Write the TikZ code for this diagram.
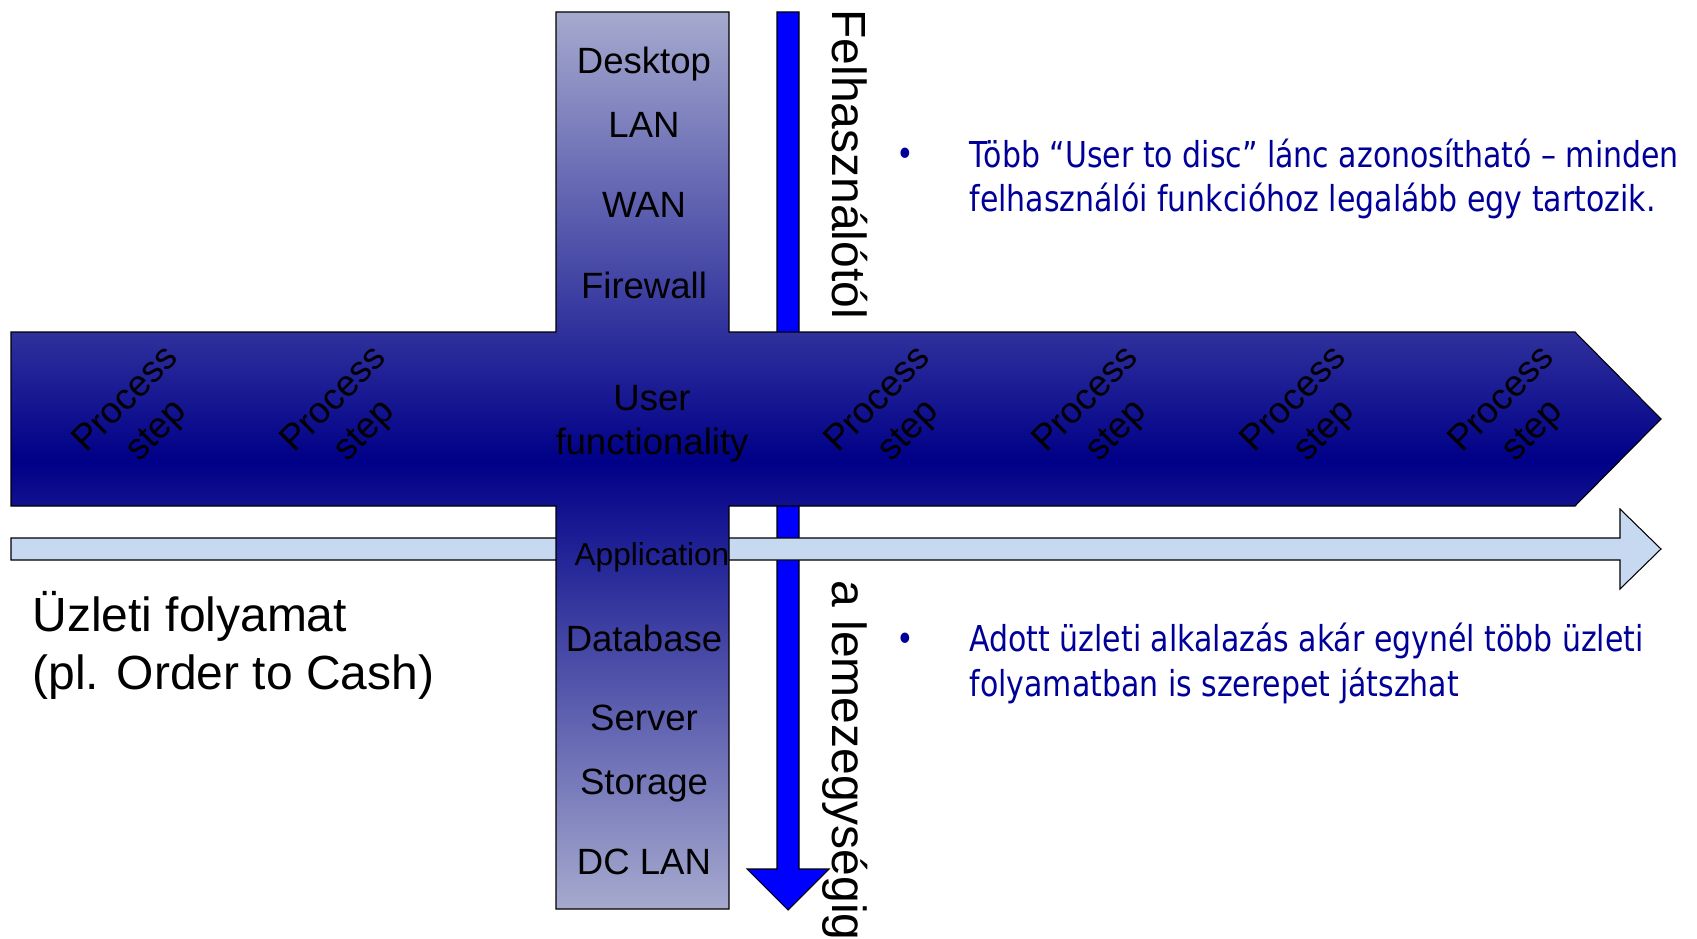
\documentclass[tikz,border=0pt]{standalone}
\usepackage{fontspec}
\setmainfont{Liberation Sans}
\newfontfamily\notefont[FakeStretch=0.84]{DejaVu Sans}

\definecolor{crosslight}{RGB}{166,170,206}
\definecolor{crossdark}{RGB}{0,0,136}
\definecolor{barlight}{RGB}{198,217,240}
\definecolor{notecol}{RGB}{0,0,153}

\tikzset{
  layer/.style={font=\fontsize{20.8}{25}\selectfont, inner sep=0pt, anchor=base},
  pstep/.style={font=\fontsize{20.8}{25}\selectfont, align=center, rotate=45, inner sep=0pt},
  sidelabel/.style={font=\fontsize{27.3}{33}\selectfont, rotate=-90, inner sep=0pt, anchor=base west},
  note/.style={font=\notefont\fontsize{20.3}{25.6}\selectfont, text=notecol, align=left, anchor=base west, inner sep=0pt},
}

\begin{document}
\begin{tikzpicture}[x=0.02cm,y=-0.02cm,line width=0.6pt]
  \useasboundingbox (0,0) rectangle (1697,939);

  % top-down arrow
  \draw[fill={rgb,255:red,0;green,0;blue,255}] (777,12) -- (799,12) -- (799,869) -- (829,869)
        -- (788,910) -- (747,869) -- (777,869) -- cycle;

  % business process arrow
  \draw[fill=barlight] (11,538) -- (1620,538) -- (1620,509) -- (1661,549)
        -- (1620,589) -- (1620,560) -- (11,560) -- cycle;

  % the cross
  \path[draw=black, top color=crosslight, bottom color=crosslight, middle color=crossdark]
        (11,332) -- (556,332) -- (556,12) -- (729,12) -- (729,332) -- (1575,332)
        -- (1661,419) -- (1575,506) -- (729,506) -- (729,909) -- (556,909)
        -- (556,506) -- (11,506) -- cycle;

  \node[layer] (desktop)  at (644,74)  {Desktop};
  \node[layer] (lan)      at (644,138) {LAN};
  \node[layer] (wan)      at (644,218) {WAN};
  \node[layer] (firewall) at (644,298) {Firewall};
  \node[layer, anchor=center, align=center] (userfn) at (652,424) {User\\functionality};
  \node[layer, font=\fontsize{18}{22}\selectfont] (app) at (652,565) {Application};
  \node[layer] (database) at (644,651) {Database};
  \node[layer] (server)   at (644,730) {Server};
  \node[layer] (storage)  at (644,794) {Storage};
  \node[layer] (dclan)    at (644,874) {DC LAN};

  \foreach \x [count=\i] in {142,350,894,1102,1310,1518}
    \node[pstep] (step\i) at (\x,416) {Process\\step};

  \node[sidelabel] (fromuser) at (832,9)   {Felhasználótól};
  \node[sidelabel] (todisk)   at (832,580) {a lemezegységig};

  % base of a multi-line node is its last line
  \node[anchor=base west, inner sep=0pt, align=left, font=\fontsize{27.3}{33}\selectfont]
        (bizproc) at (32,689) {Üzleti folyamat\\(pl. Order to Cash)};

  \node[note, anchor=base] (dot1) at (905,167) {•};
  \node[note] (note1) at (969,212)
        {Több “User to disc” lánc azonosítható – minden\\felhasználói funkcióhoz legalább egy tartozik.};
  \node[note, anchor=base] (dot2) at (905,651) {•};
  \node[note] (note2) at (969,696)
        {Adott üzleti alkalazás akár egynél több üzleti\\folyamatban is szerepet játszhat};
\end{tikzpicture}
\end{document}
